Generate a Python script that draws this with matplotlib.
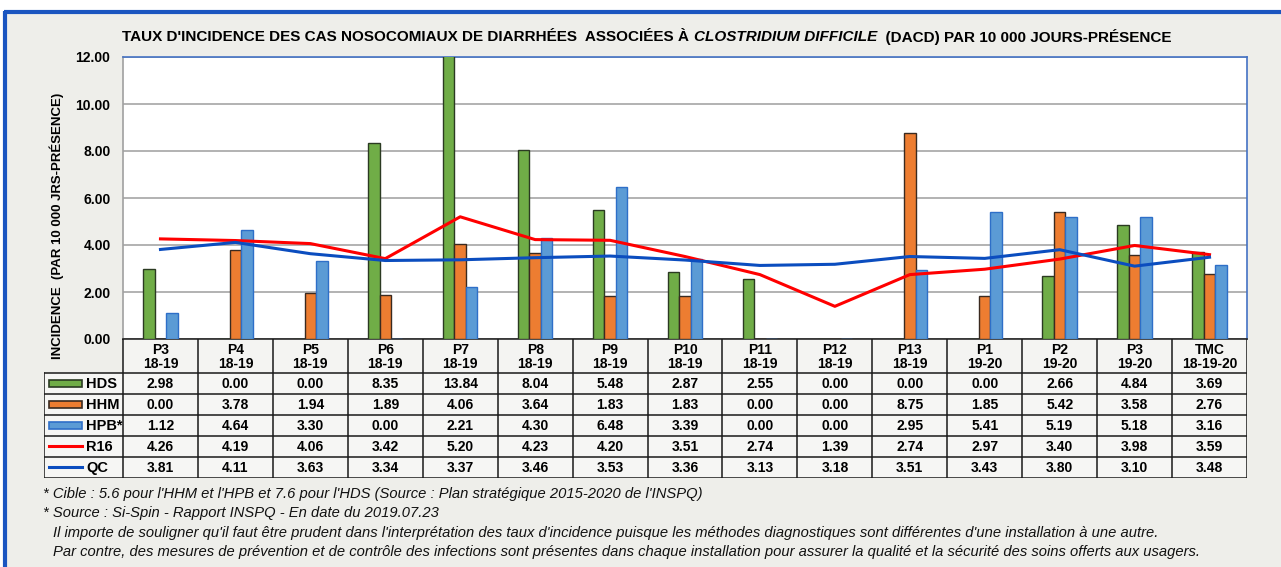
import matplotlib
matplotlib.use("Agg")
import matplotlib.pyplot as plt
from matplotlib.patches import Rectangle
import numpy as np

categories = ["P3\n18-19", "P4\n18-19", "P5\n18-19", "P6\n18-19", "P7\n18-19", "P8\n18-19",
              "P9\n18-19", "P10\n18-19", "P11\n18-19", "P12\n18-19", "P13\n18-19",
              "P1\n19-20", "P2\n19-20", "P3\n19-20", "TMC\n18-19-20"]
hds = [2.98, 0.00, 0.00, 8.35, 13.84, 8.04, 5.48, 2.87, 2.55, 0.00, 0.00, 0.00, 2.66, 4.84, 3.69]
hhm = [0.00, 3.78, 1.94, 1.89, 4.06, 3.64, 1.83, 1.83, 0.00, 0.00, 8.75, 1.85, 5.42, 3.58, 2.76]
hpb = [1.12, 4.64, 3.30, 0.00, 2.21, 4.30, 6.48, 3.39, 0.00, 0.00, 2.95, 5.41, 5.19, 5.18, 3.16]
r16 = [4.26, 4.19, 4.06, 3.42, 5.20, 4.23, 4.20, 3.51, 2.74, 1.39, 2.74, 2.97, 3.40, 3.98, 3.59]
qc = [3.81, 4.11, 3.63, 3.34, 3.37, 3.46, 3.53, 3.36, 3.13, 3.18, 3.51, 3.43, 3.80, 3.10, 3.48]
row_labels = ["HDS", "HHM", "HPB*", "R16", "QC"]

W, H = 1281, 567
fig = plt.figure(figsize=(W / 100, H / 100), dpi=100)
fig.patch.set_facecolor("white")

def fx(px):
    return px / W

def fy(py):
    return 1 - py / H

# background panel and blue frame
bg = fig.add_axes([0, 0, 1, 1], zorder=-10)
bg.set_xlim(0, W); bg.set_ylim(H, 0); bg.axis("off")
bg.add_patch(Rectangle((4, 11), W, H, facecolor="#EEEEEA", edgecolor="none"))
bg.plot([4.5, 4.5], [11, H], color="#1A55C0", lw=3, solid_capstyle="butt")
bg.plot([4, W], [11.5, 11.5], color="#1A55C0", lw=3, solid_capstyle="butt")

GREEN, GREEN_E = "#70AD47", "#2B3A22"
ORANGE, ORANGE_E = "#ED7D31", "#3A2A20"
BLUE, BLUE_E = "#5B9BD5", "#2E6FC8"
RED = "#FF0000"
QCBLUE = "#0B4DBF"

n = len(categories)
x = np.arange(n)
bw = 0.153

ax_l, ax_r, ax_t, ax_b = 123, 1247, 57, 339
ax = fig.add_axes([fx(ax_l), fy(ax_b), fx(ax_r - ax_l), (ax_b - ax_t) / H])
ax.set_facecolor("white")
ax.bar(x - bw, hds, bw, color=GREEN, edgecolor=GREEN_E, linewidth=1.0, zorder=3)
ax.bar(x, hhm, bw, color=ORANGE, edgecolor=ORANGE_E, linewidth=1.0, zorder=3)
ax.bar(x + bw, hpb, bw, color=BLUE, edgecolor=BLUE_E, linewidth=1.0, zorder=3)
ax.plot(x, r16, color=RED, lw=2.2, zorder=4)
ax.plot(x, qc, color=QCBLUE, lw=2.2, zorder=4)
ax.set_xlim(-0.5, n - 0.5)
ax.set_ylim(0, 12)
ax.set_yticks(np.arange(0, 12.01, 2))
ax.set_yticklabels([f"{v:.2f}" for v in np.arange(0, 12.01, 2)],
                   fontsize=10, fontweight="bold", family="Liberation Sans")
ax.tick_params(axis="y", length=0, pad=9)
ax.set_xticks([])
ax.grid(axis="y", color="#A6A6A6", lw=1.2, zorder=0)
ax.set_axisbelow(True)
ax.spines["top"].set_color("#4472C4")
ax.spines["right"].set_color("#4472C4")
ax.spines["left"].set_color("#A0A0A0")
ax.spines["bottom"].set_color("#222222")
for s in ax.spines.values():
    s.set_linewidth(1.2)

fig.text(fx(57), fy(226), "INCIDENCE  (PAR 10 000 JRS-PRÉSENCE)", rotation=90,
         ha="center", va="center", fontsize=9.5, fontweight="bold", family="Liberation Sans")

# table
tl, tr, tt, tb = 44, 1247, 339, 478
tax = fig.add_axes([fx(tl), fy(tb), fx(tr - tl), (tb - tt) / H])
tax.axis("off")
unit = (ax_r - ax_l) / n
xl = -0.5 - (ax_l - tl) / unit
tax.set_xlim(xl, n - 0.5)
tax.set_ylim(tb, tt)
rows_y = [339, 373, 394, 415, 436, 457, 478]
lc = "#1A1A1A"
lw = 1.1
tax.add_patch(Rectangle((-0.5, rows_y[0]), n, rows_y[1] - rows_y[0], facecolor="#F4F4F2", edgecolor="none"))
tax.add_patch(Rectangle((xl, rows_y[1]), n - 0.5 - xl, rows_y[-1] - rows_y[1], facecolor="#F6F6F4", edgecolor="none"))
tax.plot([-0.5, n - 0.5], [rows_y[0]] * 2, color=lc, lw=lw)
for yy in rows_y[1:]:
    tax.plot([xl, n - 0.5], [yy, yy], color=lc, lw=lw)
for i in range(n + 1):
    tax.plot([i - 0.5, i - 0.5], [rows_y[0], rows_y[-1]], color=lc, lw=lw)
tax.plot([xl, xl], [rows_y[1], rows_y[-1]], color=lc, lw=lw)

for i, c in enumerate(categories):
    tax.text(i, (rows_y[0] + rows_y[1]) / 2 + 1, c, ha="center", va="center", fontsize=10,
             fontweight="bold", family="Liberation Sans", linespacing=1.0)

series = [hds, hhm, hpb, r16, qc]
for r, vals in enumerate(series):
    yc = (rows_y[r + 1] + rows_y[r + 2]) / 2 + 0.5
    for i, v in enumerate(vals):
        tax.text(i, yc, f"{v:.2f}", ha="center", va="center", fontsize=10,
                 fontweight="bold", family="Liberation Sans")

sw_x0 = xl + 5 / unit
sw_x1 = xl + 38 / unit
for r, (fc, ec) in enumerate(zip([GREEN, ORANGE, BLUE], [GREEN_E, ORANGE_E, BLUE_E])):
    yc = (rows_y[r + 1] + rows_y[r + 2]) / 2
    tax.add_patch(Rectangle((sw_x0, yc - 3.5), sw_x1 - sw_x0, 7, facecolor=fc, edgecolor=ec, lw=1.2))
for r, col in [(3, RED), (4, QCBLUE)]:
    yc = (rows_y[r + 1] + rows_y[r + 2]) / 2
    tax.plot([sw_x0, sw_x1], [yc, yc], color=col, lw=2.2)
for r, lab in enumerate(row_labels):
    yc = (rows_y[r + 1] + rows_y[r + 2]) / 2 + 0.5
    tax.text(xl + 42 / unit, yc, lab, ha="left", va="center", fontsize=10.5,
             fontweight="bold", family="Liberation Sans")

# title: normal / italic / normal
title_parts = [("TAUX D'INCIDENCE DES CAS NOSOCOMIAUX DE DIARRHÉES  ASSOCIÉES À ", "normal"),
               ("CLOSTRIDIUM DIFFICILE", "italic"),
               ("  (DACD) PAR 10 000 JOURS-PRÉSENCE", "normal")]
fam = ["Liberation Sans", "DejaVu Sans"]
fig.canvas.draw()
renderer = fig.canvas.get_renderer()
texts = []
widths = []
for s, st in title_parts:
    t = fig.text(0, fy(37), s, fontsize=11.0, fontweight="bold", style=st, family=fam,
                 ha="left", va="center")
    bb = t.get_window_extent(renderer)
    texts.append(t)
    widths.append(bb.width)
total = sum(widths)
cur = 647 - total / 2
for t, w in zip(texts, widths):
    t.set_x(fx(cur))
    cur += w

# footnotes
notes = [(43, 494, "* Cible : 5.6 pour l'HHM et l'HPB et 7.6 pour l'HDS (Source : Plan stratégique 2015-2020 de l'INSPQ)"),
         (43, 513, "* Source : Si-Spin - Rapport INSPQ - En date du 2019.07.23"),
         (53, 533, "Il importe de souligner qu'il faut être prudent dans l'interprétation des taux d'incidence puisque les méthodes diagnostiques sont différentes d'une installation à une autre."),
         (53, 552, "Par contre, des mesures de prévention et de contrôle des infections sont présentes dans chaque installation pour assurer la qualité et la sécurité des soins offerts aux usagers.")]
for px, py, s in notes:
    fig.text(fx(px), fy(py), s, fontsize=10.6, style="italic", family=fam,
             ha="left", va="center", color="#111111")

fig.savefig("out.png", dpi=100, facecolor=fig.get_facecolor())
